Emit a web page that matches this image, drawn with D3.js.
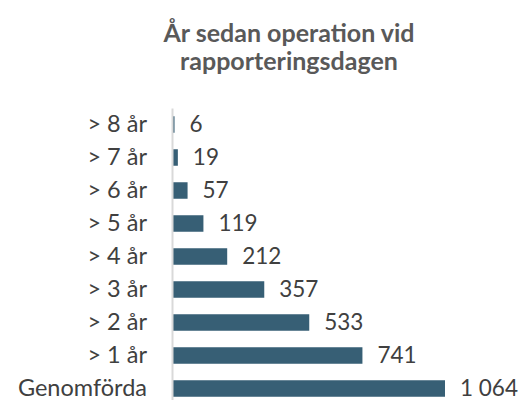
<!DOCTYPE html>
<html>
<head>
<meta charset="utf-8">
<script src="https://cdn.jsdelivr.net/npm/d3@7"></script>
<style>
	body { margin: 0; background: #fff; }
	svg text { font-family: Lato, "Open Sans", sans-serif; }
</style>
</head>
<body>
<svg id="chart" width="526" height="400"></svg>
<script>
//chart data
var categories = ["> 8 år", "> 7 år", "> 6 år", "> 5 år", "> 4 år", "> 3 år", "> 2 år", "> 1 år", "Genomförda"];
var values = [6, 19, 57, 119, 212, 357, 533, 741, 1064];
var titleLines = ["År sedan operation vid", "rapporteringsdagen"];

//swedish number format: space as thousands separator
var sv = d3.formatLocale({decimal: ",", thousands: "\u00a0", grouping: [3], currency: ["", " kr"]});
var fmt = sv.format(",d");

var svg = d3.select("#chart");
var left = 172;

var x = d3.scaleLinear()
	.domain([0, d3.max(values)])
	.range([0, 272]);

var y = d3.scaleBand()
	.domain(categories)
	.range([108, 405])
	.paddingInner(0.5)
	.paddingOuter(0.25);

//title
svg.append("g").selectAll("text")
	.data(titleLines)
	.enter().append("text")
	.attr("x", 289)
	.attr("y", function(d, i) { return 42 + i * 28; })
	.attr("text-anchor", "middle")
	.attr("font-size", 25)
	.attr("font-weight", "bold")
	.attr("fill", "#595959")
	.text(function(d) { return d; });

var g = svg.append("g").attr("transform", "translate(" + left + ",0)");

//bars
g.selectAll("rect.bar")
	.data(values)
	.enter().append("rect")
	.attr("class", "bar")
	.attr("x", 1)
	.attr("y", function(d, i) { return y(categories[i]); })
	.attr("width", function(d) { return x(d); })
	.attr("height", y.bandwidth())
	.attr("fill", "#375f75");

//category axis
var yAxis = d3.axisLeft(y).tickSize(0).tickPadding(25);
var ax = g.append("g").call(yAxis);
ax.select(".domain").attr("stroke", "#d9d9d9").attr("stroke-width", 2);
ax.selectAll("text")
	.attr("font-size", 23.5)
	.attr("fill", "#404040")
	.attr("font-family", "Lato, 'Open Sans', sans-serif");

//value labels
g.selectAll("text.val")
	.data(values)
	.enter().append("text")
	.attr("class", "val")
	.attr("x", function(d) { return x(d) + 16; })
	.attr("y", function(d, i) { return y(categories[i]) + y.bandwidth() / 2; })
	.attr("dy", "0.35em")
	.attr("font-size", 22.5)
	.attr("fill", "#404040")
	.text(function(d) { return fmt(d); });
</script>
</body>
</html>
